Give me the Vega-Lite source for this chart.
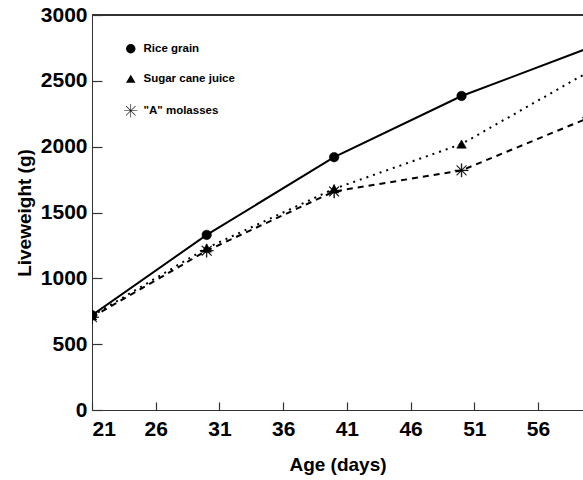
{
  "$schema": "https://vega.github.io/schema/vega-lite/v6.json",
  "width": 491,
  "height": 395,
  "autosize": {"type": "none"},
  "padding": {"left": 92, "top": 15, "right": 0, "bottom": 70},
  "background": "white",
  "config": {
    "view": {"stroke": null},
    "font": "Liberation Sans",
    "axis": {"grid": false, "domainColor": "#333", "tickColor": "#333", "tickWidth": 1.2, "labelColor": "black", "titleColor": "black", "labelFont": "Liberation Sans", "titleFont": "Liberation Sans", "labelFontWeight": "bold", "titleFontWeight": "bold"}
  },
  "data": {
    "values": [
      {"day": 21, "diet": "Rice grain", "w": 720},
      {"day": 30, "diet": "Rice grain", "w": 1330},
      {"day": 40, "diet": "Rice grain", "w": 1920},
      {"day": 50, "diet": "Rice grain", "w": 2385},
      {"day": 60, "diet": "Rice grain", "w": 2750},
      {"day": 21, "diet": "Sugar cane juice", "w": 715},
      {"day": 30, "diet": "Sugar cane juice", "w": 1230},
      {"day": 40, "diet": "Sugar cane juice", "w": 1680},
      {"day": 50, "diet": "Sugar cane juice", "w": 2020},
      {"day": 60, "diet": "Sugar cane juice", "w": 2570},
      {"day": 21, "diet": "\"A\" molasses", "w": 705},
      {"day": 30, "diet": "\"A\" molasses", "w": 1210},
      {"day": 40, "diet": "\"A\" molasses", "w": 1660},
      {"day": 50, "diet": "\"A\" molasses", "w": 1820},
      {"day": 60, "diet": "\"A\" molasses", "w": 2220}
    ]
  },
  "encoding": {
    "x": {"field": "day", "type": "quantitative", "scale": {"domain": [21, 59.53], "nice": false, "zero": false},
      "axis": {"values": [21, 26, 31, 36, 41, 46, 51, 56], "title": "Age (days)", "tickSize": -8, "labelPadding": 16, "labelFontSize": 21, "titleFontSize": 19, "titlePadding": 16}},
    "y": {"field": "w", "type": "quantitative", "scale": {"domain": [0, 3000], "nice": false},
      "axis": {"values": [0, 500, 1000, 1500, 2000, 2500, 3000], "format": "d", "title": "Liveweight (g)", "tickSize": -10, "labelPadding": 15, "labelFontSize": 21, "titleFontSize": 19, "titlePadding": 6}}
  },
  "layer": [
    {
      "mark": {"type": "rule", "color": "#333", "strokeWidth": 1},
      "encoding": {"y": {"datum": 3000}, "x": null}
    },
    {
      "transform": [{"filter": "datum.diet === 'Rice grain'"}],
      "mark": {"type": "line", "color": "black", "strokeWidth": 2, "clip": true},
      "encoding": {}
    },
    {
      "transform": [{"filter": "datum.diet === 'Sugar cane juice'"}],
      "mark": {"type": "line", "color": "black", "strokeWidth": 2, "strokeDash": [2, 5], "clip": true},
      "encoding": {}
    },
    {
      "transform": [{"filter": "datum.diet === '\"A\" molasses'"}],
      "mark": {"type": "line", "color": "black", "strokeWidth": 2, "strokeDash": [6, 5], "clip": true},
      "encoding": {}
    },
    {
      "mark": {"type": "point", "filled": true, "fill": "black", "stroke": "black", "strokeWidth": 0.6, "opacity": 1, "size": 90, "clip": true},
      "encoding": {
        "shape": {"field": "diet", "type": "nominal",
          "scale": {"domain": ["Rice grain", "Sugar cane juice", "\"A\" molasses"], "range": ["circle", "triangle-up", "M-1.4,-0.06L1.4,-0.06L1.4,0.06L-1.4,0.06ZM-0.06,-1.4L0.06,-1.4L0.06,1.4L-0.06,1.4ZM-0.958,-1.042L1.042,0.958L0.958,1.042L-1.042,-0.958ZM-0.958,1.042L1.042,-0.958L0.958,-1.042L-1.042,0.958Z"]},
          "legend": {"title": null, "orient": "none", "legendX": 33, "legendY": 28, "symbolSize": 90, "symbolFillColor": "black", "symbolStrokeColor": "black", "symbolStrokeWidth": 0.6, "symbolOpacity": 1, "labelFontSize": 11.5, "labelFontWeight": "bold", "labelColor": "black", "labelOffset": 7, "rowPadding": 17,
            "encode": {"symbols": {"update": {"stroke": {"value": "black"}, "strokeWidth": {"value": 0.6}, "fill": {"value": "black"}, "opacity": {"value": 1}}}}}}
      }
    }
  ]
}
